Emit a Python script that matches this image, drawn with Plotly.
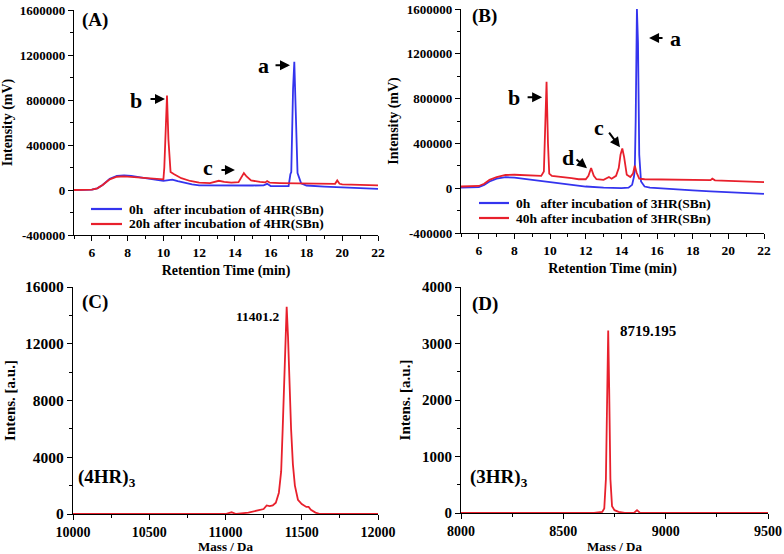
import plotly.graph_objects as go

# ---------------- data ----------------
# Panel A: HPLC, 4HR(SBn)
A_time_0h = [5, 5.5, 6.0, 6.3, 6.6, 7.0, 7.4, 7.8, 8.2, 8.8, 9.4, 10.0, 10.3, 10.5, 10.8, 11.2, 11.6, 12.0,
             13.0, 14.0, 15.0, 15.6, 15.8, 16.0, 16.5, 17.0, 17.1, 17.15, 17.25, 17.32, 17.4, 17.5, 17.7,
             18.0, 19.0, 20.0, 21.0, 22.0]
A_int_0h = [0, 0, 3000, 15000, 45000, 100000, 125000, 130000, 125000, 110000, 95000, 82000, 88000, 92000,
            78000, 62000, 50000, 42000, 40000, 38000, 40000, 42000, 55000, 35000, 32000, 35000, 140000,
            160000, 900000, 1140000, 700000, 150000, 60000, 40000, 30000, 22000, 15000, 10000]
A_time_20h = [5, 5.5, 6.0, 6.3, 6.6, 7.0, 7.4, 7.8, 8.2, 8.8, 9.4, 10.0, 10.05, 10.12, 10.2, 10.28, 10.4,
              10.6, 11.0, 11.5, 12.0, 12.6, 12.9, 13.1, 13.4, 13.8, 14.2, 14.35, 14.5, 14.65, 14.9, 15.4,
              15.7, 15.8, 15.95, 16.5, 17.0, 17.5, 18.0, 19.0, 19.6, 19.72, 19.85, 20.0, 21.0, 22.0]
A_int_20h = [0, 0, 3000, 15000, 45000, 95000, 118000, 122000, 118000, 108000, 100000, 95000, 200000,
             600000, 840000, 450000, 160000, 140000, 105000, 80000, 65000, 62000, 78000, 82000, 72000,
             65000, 70000, 110000, 150000, 120000, 85000, 72000, 68000, 80000, 65000, 62000, 60000, 62000,
             62000, 58000, 55000, 85000, 55000, 50000, 48000, 42000]

# Panel B: HPLC, 3HR(SBn)
B_time_0h = [5, 5.5, 6.0, 6.3, 6.6, 7.0, 7.5, 8.0, 8.5, 9.0, 10.0, 11.0, 12.0, 13.0, 14.0, 14.4, 14.6,
             14.7, 14.75, 14.8, 14.87, 14.93, 15.0, 15.1, 15.3, 15.6, 16.0, 17.0, 18.0, 19.0, 20.0, 21.0, 22.0]
B_int_0h = [5000, 5000, 10000, 30000, 60000, 85000, 98000, 95000, 85000, 75000, 50000, 30000, 15000, 5000,
            0, 5000, 30000, 100000, 160000, 600000, 1600000, 1300000, 300000, 60000, 15000, 5000, 0,
            -10000, -20000, -28000, -35000, -42000, -50000]
B_time_40h = [5, 5.5, 6.0, 6.3, 6.6, 7.0, 7.5, 8.0, 8.5, 9.0, 9.5, 9.65, 9.72, 9.8, 9.88, 9.95, 10.1,
              10.5, 10.8, 11.2, 11.6, 12.0, 12.15, 12.3, 12.45, 12.6, 13.0, 13.2, 13.3, 13.45, 13.7,
              13.85, 13.95, 14.05, 14.15, 14.3, 14.5, 14.65, 14.75, 14.85, 15.0, 15.3, 16.0, 17.0, 18.0,
              19.0, 19.1, 19.25, 20.0, 21.0, 22.0]
B_int_40h = [15000, 15000, 20000, 40000, 75000, 100000, 118000, 120000, 118000, 115000, 110000, 150000,
             500000, 950000, 400000, 130000, 110000, 105000, 100000, 90000, 80000, 80000, 110000, 180000,
             110000, 80000, 75000, 90000, 100000, 85000, 110000, 180000, 300000, 355000, 280000, 120000,
             100000, 130000, 200000, 140000, 85000, 80000, 78000, 76000, 75000, 72000, 85000, 70000,
             65000, 60000, 55000]

# Panel C: mass spectrum (4HR)3
C_mass = [10000, 10500, 11000, 11040, 11055, 11070, 11150, 11200, 11250, 11270, 11290, 11310, 11330,
          11350, 11365, 11375, 11385, 11395, 11401.2, 11410, 11420, 11430, 11442, 11455, 11475, 11500,
          11530, 11545, 11560, 11590, 11620, 11700, 12000]
C_int = [0, 0, 0, 120, 50, 0, 100, 250, 350, 600, 550, 600, 800, 1500, 3000, 6000, 9500, 13500, 14600,
         12500, 9000, 6000, 3500, 2000, 1000, 700, 500, 500, 300, 100, 0, 0, 0]

# Panel D: mass spectrum (3HR)3
D_mass = [8000, 8500, 8650, 8690, 8700, 8708, 8714, 8719.195, 8724, 8730, 8738, 8750, 8770, 8800, 8845,
          8860, 8875, 8900, 9500]
D_int = [0, 0, 0, 20, 80, 600, 2200, 3230, 2200, 600, 120, 50, 20, 0, 0, 50, 0, 0, 0]

# tick labels
hplc_y_vals = [-400000, 0, 400000, 800000, 1200000, 1600000]
hplc_y_text = ["-400000", "0", "400000", "800000", "1200000", "1600000"]
hplc_x_vals = [6, 8, 10, 12, 14, 16, 18, 20, 22]
hplc_x_text = ["6", "8", "10", "12", "14", "16", "18", "20", "22"]
C_y_vals = [0, 4000, 8000, 12000, 16000]
C_y_text = ["0", "4000", "8000", "12000", "16000"]
C_x_vals = [10000, 10500, 11000, 11500, 12000]
C_x_text = ["10000", "10500", "11000", "11500", "12000"]
D_y_vals = [0, 1000, 2000, 3000, 4000]
D_y_text = ["0", "1000", "2000", "3000", "4000"]
D_x_vals = [8000, 8500, 9000, 9500]
D_x_text = ["8000", "8500", "9000", "9500"]

legend_A = ["0h\u00a0\u00a0\u00a0after incubation of 4HR(SBn)", "20h after incubation of 4HR(SBn)"]
legend_B = ["0h\u00a0\u00a0\u00a0after incubation of 3HR(SBn)", "40h after incubation of 3HR(SBn)"]

# ---------------- style ----------------
W, H = 784, 554
FONT = "Liberation Serif"
BLUE = "#3434ee"
RED = "#e8202c"
LW = 1.8


def px(x):
    return x / W


def py(y):
    return 1 - y / H


fig = go.Figure()
fig.add_trace(go.Scatter(x=A_time_0h, y=A_int_0h, xaxis="x", yaxis="y", mode="lines",
                         line=dict(color=BLUE, width=LW), name=legend_A[0], showlegend=False))
fig.add_trace(go.Scatter(x=A_time_20h, y=A_int_20h, xaxis="x", yaxis="y", mode="lines",
                         line=dict(color=RED, width=LW), name=legend_A[1], showlegend=False))
fig.add_trace(go.Scatter(x=B_time_0h, y=B_int_0h, xaxis="x2", yaxis="y2", mode="lines",
                         line=dict(color=BLUE, width=LW), name=legend_B[0], showlegend=False))
fig.add_trace(go.Scatter(x=B_time_40h, y=B_int_40h, xaxis="x2", yaxis="y2", mode="lines",
                         line=dict(color=RED, width=LW), name=legend_B[1], showlegend=False))
fig.add_trace(go.Scatter(x=C_mass, y=C_int, xaxis="x3", yaxis="y3", mode="lines",
                         line=dict(color=RED, width=LW), showlegend=False))
fig.add_trace(go.Scatter(x=D_mass, y=D_int, xaxis="x4", yaxis="y4", mode="lines",
                         line=dict(color=RED, width=LW), showlegend=False))


def axis(domain, anchor, rng, vals, text, minor, title, standoff, tsize=13, titsize=14):
    return dict(domain=domain, anchor=anchor, range=rng, showgrid=False, zeroline=False,
                showline=True, linecolor="black", linewidth=1.2, mirror=False,
                ticks="outside", ticklen=5, tickwidth=1.2, tickcolor="black",
                tickvals=vals, ticktext=text, automargin=False,
                tickfont=dict(family=FONT, size=tsize, color="black", weight="bold"),
                minor=dict(ticks="outside", ticklen=3, tickwidth=1, tickcolor="black", dtick=minor,
                           tick0=0, showgrid=False),
                title=dict(text=title, standoff=standoff,
                           font=dict(family=FONT, size=titsize, color="black", weight="bold")))


fig.update_layout(
    width=W, height=H, margin=dict(l=0, r=0, t=0, b=0),
    paper_bgcolor="white", plot_bgcolor="white",
    font=dict(family=FONT, color="black"),
    showlegend=False,
    xaxis=axis([px(74), px(378)], "y", [5, 22], hplc_x_vals, hplc_x_text, 1,
               "Retention Time (min)", 5, 13.5),
    yaxis=axis([py(235), py(10)], "x", [-400000, 1600000], hplc_y_vals, hplc_y_text, 200000,
               "Intensity (mV)", 4),
    xaxis2=axis([px(461), px(764)], "y2", [5, 22], hplc_x_vals, hplc_x_text, 1,
                "Retention Time (min)", 5, 13.5),
    yaxis2=axis([py(233), py(9)], "x2", [-400000, 1600000], hplc_y_vals, hplc_y_text, 200000,
                "Intensity (mV)", 4),
    xaxis3=axis([px(73), px(378)], "y3", [10000, 12000], C_x_vals, C_x_text, 250,
                "Mass / Da", 5, 14, 13),
    yaxis3=axis([py(514), py(287)], "x3", [0, 16000], C_y_vals, C_y_text, 2000,
                "Intens. [a.u.]", 5, 15.5, 15),
    xaxis4=axis([px(461), px(768)], "y4", [8000, 9500], D_x_vals, D_x_text, 250,
                "Mass / Da", 5, 14, 13),
    yaxis4=axis([py(513), py(287)], "x4", [0, 4000], D_y_vals, D_y_text, 500,
                "Intens. [a.u.]", 7, 15, 15),
)

ann = []
shapes = []


def label(text, x, y, size, xref="paper", yref="paper", xanchor="center"):
    ann.append(dict(text=text, x=x, y=y, xref=xref, yref=yref, showarrow=False,
                    xanchor=xanchor, yanchor="middle",
                    font=dict(family=FONT, size=size, color="black", weight="bold")))


def arrow(x, y, ax, ay, xref, yref):
    ann.append(dict(text="", x=x, y=y, xref=xref, yref=yref, ax=ax, ay=ay, showarrow=True,
                    arrowhead=2, arrowsize=1.0, arrowwidth=2, arrowcolor="black", standoff=0))


def legend_item(x0, x1, y, color, text):
    shapes.append(dict(type="line", xref="paper", yref="paper", x0=px(x0), x1=px(x1),
                       y0=py(y), y1=py(y), line=dict(color=color, width=2.2)))
    ann.append(dict(text=text, x=px(x1 + 5), y=py(y), xref="paper", yref="paper", showarrow=False,
                    xanchor="left", yanchor="middle",
                    font=dict(family=FONT, size=13.5, color="black", weight="bold")))


# legends (drawn manually to match compact spacing)
legend_item(91, 122, 209, BLUE, legend_A[0])
legend_item(91, 122, 224, RED, legend_A[1])
legend_item(479, 509, 203, BLUE, legend_B[0])
legend_item(479, 509, 218, RED, legend_B[1])

# panel letters
label("(A)", px(95), py(20), 19)
label("(B)", px(484), py(16), 19)
label("(C)", px(95), py(302), 19)
label("(D)", px(485), py(304), 19)

# panel A peak markers
label("a", 15.57, 1110000, 22, "x", "y")
arrow(17.08, 1110000, -16, 0, "x", "y")
label("b", 8.47, 800000, 22, "x", "y")
arrow(10.09, 809000, -16, 0, "x", "y")
label("c", 12.49, 204000, 22, "x", "y")
arrow(14.0, 178000, -15, 0, "x", "y")

# panel B peak markers
label("b", 7.97, 813000, 22, "x2", "y2")
arrow(9.55, 813000, -16, 0, "x2", "y2")
label("a", 17.01, 1340000, 22, "x2", "y2")
arrow(15.55, 1340000, 15, 0, "x2", "y2")
label("d", 11.0, 277000, 22, "x2", "y2")
arrow(12.07, 179000, -12, -10, "x2", "y2")
label("c", 12.74, 545000, 22, "x2", "y2")
arrow(13.92, 366000, -12, -16, "x2", "y2")

# mass labels
label("11401.2", px(257), py(316), 13.5)
label("8719.195", px(648), py(331), 15)
label("(4HR)<sub>3</sub>", px(107), py(478), 19)
label("(3HR)<sub>3</sub>", px(499), py(478), 19)

fig.update_layout(annotations=ann, shapes=shapes)
fig.write_html("out.html", config={"displayModeBar": False},
               post_script="document.body.style.margin='0';document.body.style.overflow='hidden';")
